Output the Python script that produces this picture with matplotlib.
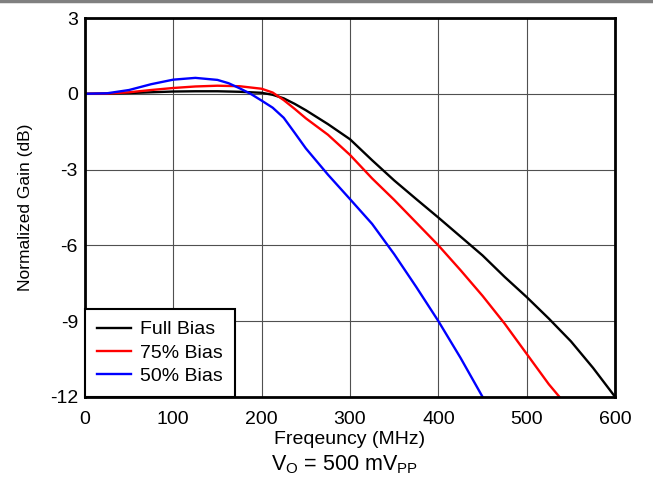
import matplotlib
matplotlib.use("Agg")
import matplotlib.pyplot as plt
from matplotlib.lines import Line2D

plt.rcParams['font.family'] = ['Liberation Sans', 'DejaVu Sans']

# Full Bias
f_full = [0, 25, 50, 75, 100, 125, 150, 175, 200, 212.5, 225, 237.5, 250, 275, 300,
          325, 350, 375, 400, 425, 450, 475, 500, 525, 550, 575, 600]
g_full = [0, 0.01, 0.03, 0.06, 0.09, 0.1, 0.1, 0.08, 0.04, -0.04, -0.18, -0.4, -0.65,
          -1.2, -1.8, -2.63, -3.43, -4.17, -4.9, -5.65, -6.4, -7.25, -8.05, -8.9,
          -9.8, -10.85, -12]

# 75% Bias
f_75 = [0, 25, 50, 75, 100, 125, 150, 175, 200, 212.5, 225, 237.5, 250, 275, 300,
        325, 350, 375, 400, 425, 450, 475, 500, 525, 537]
g_75 = [0, 0.01, 0.06, 0.15, 0.23, 0.29, 0.32, 0.3, 0.2, 0.05, -0.25, -0.6, -0.97,
        -1.62, -2.42, -3.35, -4.2, -5.1, -6.0, -6.98, -8.0, -9.1, -10.3, -11.5, -12]

# 50% Bias
f_50 = [0, 25, 50, 75, 100, 125, 150, 162.5, 175, 187.5, 200, 212.5, 225, 237.5, 250,
        275, 300, 325, 350, 375, 400, 425, 450]
g_50 = [0, 0.02, 0.15, 0.38, 0.56, 0.63, 0.55, 0.42, 0.22, 0.0, -0.27, -0.55, -0.95,
        -1.55, -2.16, -3.2, -4.17, -5.15, -6.35, -7.65, -9.0, -10.45, -12]

xticks = [0, 100, 200, 300, 400, 500, 600]
yticks = [3, 0, -3, -6, -9, -12]
ytick_labels = ["3", "0", "-3", "-6", "-9", "-12"]

fig = plt.figure(figsize=(6.53, 4.87), dpi=100)
ax = fig.add_axes([0.130, 0.185, 0.812, 0.778])

# grey rule along the top edge of the figure
fig.add_artist(Line2D([0, 1], [0.998, 0.998], color="#808080", lw=2.5,
                      transform=fig.transFigure))

ax.plot(f_full, g_full, color="black", lw=1.7, label="Full Bias")
ax.plot(f_75, g_75, color="#ff0000", lw=1.7, label="75% Bias")
ax.plot(f_50, g_50, color="#0000ff", lw=1.7, label="50% Bias")

ax.set_xlim(0, 600)
ax.set_ylim(-12, 3)
ax.set_xticks(xticks)
ax.set_xticklabels([str(t) for t in xticks])
ax.set_yticks(yticks)
ax.set_yticklabels(ytick_labels)
ax.tick_params(length=0, labelsize=14, colors="black")
ax.tick_params(axis="x", pad=10)
ax.tick_params(axis="y", pad=5)
ax.grid(True, color="#505050", lw=0.8)
ax.set_axisbelow(True)
for s in ax.spines.values():
    s.set_linewidth(2)
    s.set_color("black")

ax.set_xlabel("Freqeuncy (MHz)", fontsize=14, labelpad=2)
ax.set_ylabel("Normalized Gain (dB)", fontsize=12.5, labelpad=12)

leg = ax.legend(loc="lower left", borderaxespad=0, fancybox=False, fontsize=14,
                handlelength=1.75, handletextpad=0.5, framealpha=1, borderpad=0.6,
                labelspacing=0.3)
leg.get_frame().set_edgecolor("black")
leg.get_frame().set_linewidth(1.5)

fig.text(0.527, 0.045, r"V$\mathregular{_O}$ = 500 mV$\mathregular{_{PP}}$",
         ha="center", va="center", fontsize=15.5)

fig.savefig("out.png", dpi=100)
